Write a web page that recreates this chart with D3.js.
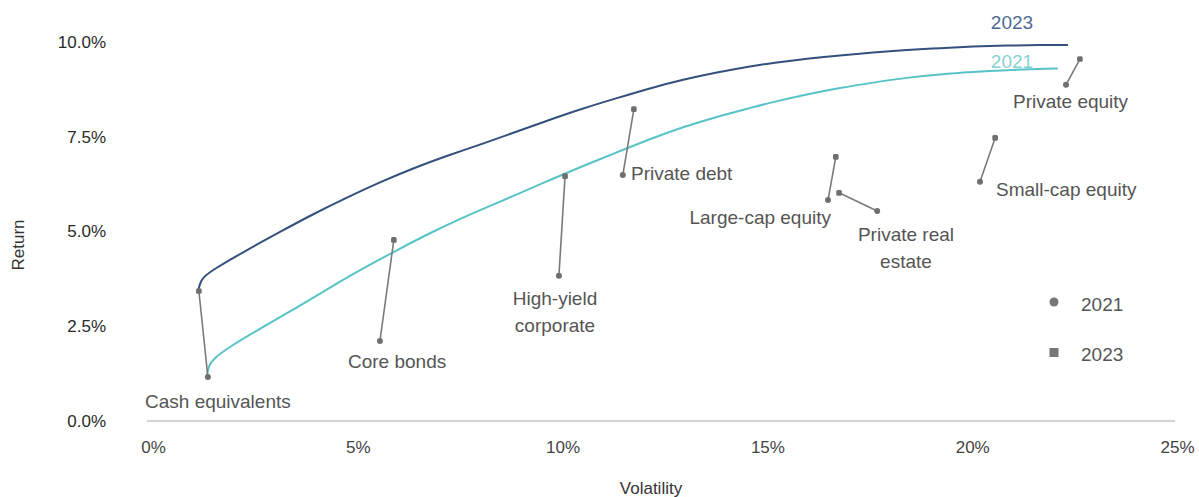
<!DOCTYPE html>
<html>
<head>
<meta charset="utf-8">
<script src="https://cdn.jsdelivr.net/npm/d3@7"></script>
<style>
  body { margin: 0; background: #fff; }
  svg { display: block; }
  .note { font-family: "Liberation Sans Narrow", "Liberation Sans", sans-serif; fill: #555; }
</style>
</head>
<body>
<div id="chart"></div>
<script>
// set svg size
var width = 1199;
var height = 497;

// asset classes, one connector per asset (2021 -> 2023)
var assets = ["Cash equivalents", "Core bonds", "High-yield corporate", "Private debt",
              "Large-cap equity", "Private real estate", "Small-cap equity", "Private equity"];
var vol2021 = [1.34, 5.54, 9.91, 11.47, 16.48, 17.68, 20.19, 22.29];
var ret2021 = [1.16, 2.11, 3.83, 6.49, 5.83, 5.54, 6.31, 8.87];
var vol2023 = [1.12, 5.88, 10.06, 11.74, 16.67, 16.75, 20.56, 22.63];
var ret2023 = [3.43, 4.78, 6.46, 8.23, 6.97, 6.02, 7.47, 9.55];

// efficient frontier, 2021
var frontVol2021 = [1.32, 1.36, 1.46, 1.88, 2.69, 3.52, 4.32, 5.13, 5.96, 6.76, 7.57, 8.06, 8.89, 9.69,
                    10.50, 11.33, 12.13, 12.94, 13.77, 14.58, 15.14, 15.97, 16.77, 17.58, 18.41,
                    19.21, 20.02, 20.85, 21.66, 22.09];
var frontRet2021 = [1.22, 1.45, 1.63, 1.97, 2.48, 3.00, 3.52, 4.03, 4.51, 4.96, 5.37, 5.60, 5.98, 6.36,
                    6.73, 7.09, 7.44, 7.76, 8.03, 8.26, 8.42, 8.62, 8.79, 8.93, 9.06,
                    9.15, 9.21, 9.26, 9.29, 9.30];
// efficient frontier, 2023
var frontVol2023 = [1.10, 1.14, 1.22, 1.46, 2.29, 3.10, 3.91, 4.74, 5.54, 6.35, 7.18, 8.06, 8.89, 9.69,
                    10.50, 11.33, 12.13, 12.94, 13.77, 14.58, 15.14, 15.97, 16.77, 17.58, 18.41,
                    19.21, 20.02, 20.85, 21.66, 22.34];
var frontRet2023 = [3.40, 3.62, 3.79, 3.99, 4.51, 4.99, 5.46, 5.90, 6.30, 6.67, 7.00, 7.32, 7.64, 7.95,
                    8.25, 8.52, 8.78, 9.01, 9.20, 9.36, 9.45, 9.56, 9.65, 9.72, 9.79,
                    9.84, 9.88, 9.91, 9.92, 9.92];

var xTicks = [0, 5, 10, 15, 20, 25];
var yTicks = [0, 2.5, 5, 7.5, 10];
var years = ["2021", "2023"];

var col2021 = "#58c3c6";
var col2023 = "#34507c";

var svg = d3.select("#chart").append("svg")
    .attr("width", width)
    .attr("height", height);

var x = d3.scaleLinear().domain([0, 25]).range([153, 1177]);
var y = d3.scaleLinear().domain([0, 10]).range([421, 42]);

// baseline
svg.append("line")
   .attr("x1", 147).attr("x2", 1175)
   .attr("y1", y(0)).attr("y2", y(0))
   .attr("stroke", "#d4d4d4")
   .attr("stroke-width", 2);

// y axis labels
var yAxis = svg.append("g")
   .attr("transform", "translate(106,0)")
   .call(d3.axisLeft(y).tickValues(yTicks).tickSize(0).tickPadding(0)
         .tickFormat(function(d) { return d3.format(".1%")(d / 100); }));
yAxis.select(".domain").remove();
yAxis.selectAll("text")
   .attr("font-family", "Liberation Sans, Arial, sans-serif")
   .attr("font-size", 17)
   .attr("fill", "#2a2a2a");

// x axis labels
var xAxis = svg.append("g")
   .attr("transform", "translate(0," + y(0) + ")")
   .call(d3.axisBottom(x).tickValues(xTicks).tickSize(0).tickPadding(20)
         .tickFormat(function(d) { return d + "%"; }));
xAxis.select(".domain").remove();
xAxis.selectAll("text")
   .attr("font-family", "Liberation Sans Narrow, Liberation Sans, sans-serif")
   .attr("font-size", 17)
   .attr("fill", "#444");

// axis titles
svg.append("text")
   .text("Volatility")
   .attr("x", 651).attr("y", 494)
   .attr("text-anchor", "middle")
   .attr("font-family", "Liberation Sans, Arial, sans-serif")
   .attr("font-size", 17)
   .attr("fill", "#333");

svg.append("text")
   .text("Return")
   .attr("transform", "translate(24,245) rotate(-90)")
   .attr("text-anchor", "middle")
   .attr("font-family", "Liberation Sans, Arial, sans-serif")
   .attr("font-size", 17)
   .attr("fill", "#333");

// frontier lines
var line = d3.line()
   .x(function(d) { return x(d[0]); })
   .y(function(d) { return y(d[1]); })
   .curve(d3.curveBasis);

svg.append("path")
   .datum(d3.zip(frontVol2021, frontRet2021))
   .attr("d", line)
   .attr("fill", "none")
   .attr("stroke", col2021)
   .attr("stroke-width", 2);

svg.append("path")
   .datum(d3.zip(frontVol2023, frontRet2023))
   .attr("d", line)
   .attr("fill", "none")
   .attr("stroke", col2023)
   .attr("stroke-width", 2);

// line end labels
svg.append("text").attr("class", "note")
   .text("2023")
   .attr("x", 1012).attr("y", 29)
   .attr("text-anchor", "middle")
   .attr("font-size", 19)
   .style("fill", "#4d6a94");
svg.append("text").attr("class", "note")
   .text("2021")
   .attr("x", 1012).attr("y", 68)
   .attr("text-anchor", "middle")
   .attr("font-size", 19)
   .style("fill", "#86d3d3");

// connectors
var pts = assets.map(function(a, i) {
  return {name: a, v1: vol2021[i], r1: ret2021[i], v2: vol2023[i], r2: ret2023[i]};
});

svg.selectAll("line.conn")
   .data(pts)
   .enter()
   .append("line")
   .attr("class", "conn")
   .attr("x1", function(d) { return x(d.v1); })
   .attr("y1", function(d) { return y(d.r1); })
   .attr("x2", function(d) { return x(d.v2); })
   .attr("y2", function(d) { return y(d.r2); })
   .attr("stroke", "#7a7a7a")
   .attr("stroke-width", 1.6);

svg.selectAll("circle.p21")
   .data(pts)
   .enter()
   .append("circle")
   .attr("class", "p21")
   .attr("cx", function(d) { return x(d.v1); })
   .attr("cy", function(d) { return y(d.r1); })
   .attr("r", 3)
   .attr("fill", "#6f6f6f");

svg.selectAll("rect.p23")
   .data(pts)
   .enter()
   .append("rect")
   .attr("class", "p23")
   .attr("x", function(d) { return x(d.v2) - 2.8; })
   .attr("y", function(d) { return y(d.r2) - 2.8; })
   .attr("width", 5.6)
   .attr("height", 5.6)
   .attr("rx", 1.5)
   .attr("fill", "#6f6f6f");

// asset labels (text placement only)
var labelLayout = [
  {lines: ["Cash equivalents"], x: 145, y: 408, anchor: "start"},
  {lines: ["Core bonds"], x: 348, y: 368, anchor: "start"},
  {lines: ["High-yield", "corporate"], x: 555, y: 305, anchor: "middle"},
  {lines: ["Private debt"], x: 631, y: 180, anchor: "start"},
  {lines: ["Large-cap equity"], x: 831, y: 224, anchor: "end"},
  {lines: ["Private real", "estate"], x: 906, y: 241, anchor: "middle"},
  {lines: ["Small-cap equity"], x: 996, y: 196, anchor: "start"},
  {lines: ["Private equity"], x: 1013, y: 108, anchor: "start"}
];

labelLayout.forEach(function(l) {
  var t = svg.append("text").attr("class", "note")
     .attr("font-size", 19)
     .attr("text-anchor", l.anchor);
  l.lines.forEach(function(s, j) {
    t.append("tspan")
     .attr("x", l.x)
     .attr("y", l.y + j * 27)
     .text(s);
  });
});

// legend
var legend = svg.append("g").attr("transform", "translate(1054,0)");
legend.append("circle")
   .attr("cx", 0).attr("cy", 302).attr("r", 4.5)
   .attr("fill", "#777");
legend.append("rect")
   .attr("x", -4.5).attr("y", 348).attr("width", 9).attr("height", 9)
   .attr("fill", "#777");
legend.selectAll("text")
   .data(years)
   .enter()
   .append("text")
   .attr("class", "note")
   .text(function(d) { return d; })
   .attr("x", 27)
   .attr("y", function(d, i) { return 311 + i * 50; })
   .attr("font-size", 19);
</script>
</body>
</html>
